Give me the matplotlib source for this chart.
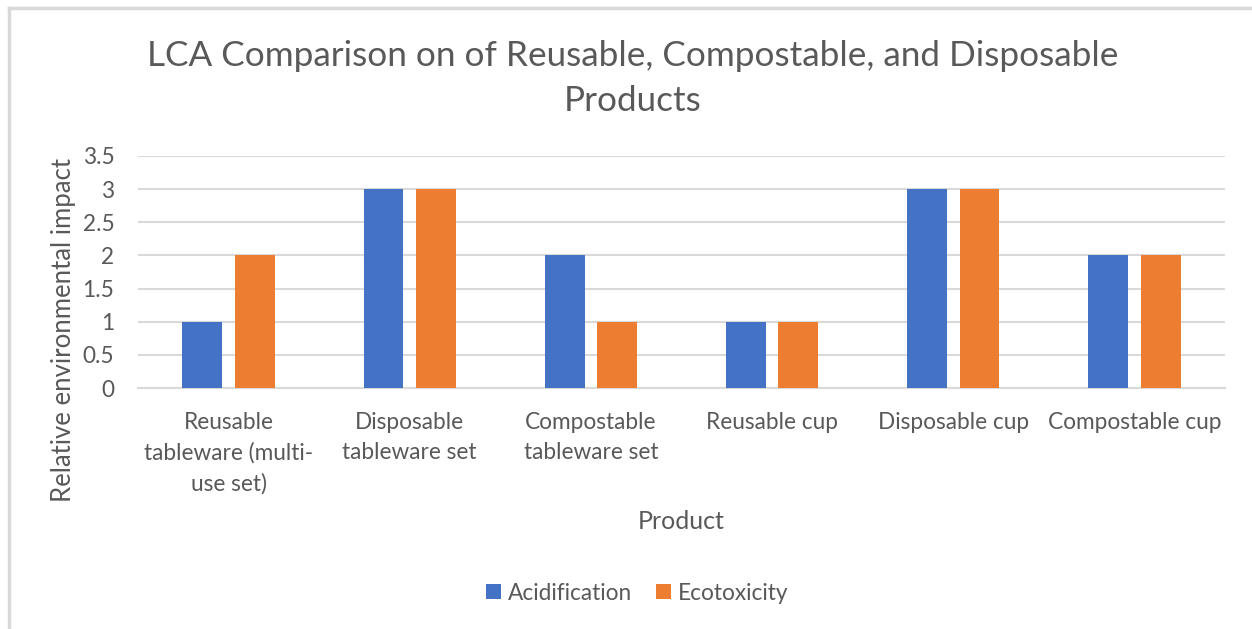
import matplotlib.pyplot as plt
import numpy as np
from matplotlib.lines import Line2D

plt.rcParams['font.family'] = ['Lato', 'DejaVu Sans']

# data
products = ["Reusable\ntableware (multi-\nuse set)", "Disposable\ntableware set",
            "Compostable\ntableware set", "Reusable cup", "Disposable cup",
            "Compostable cup"]
acidification = [1, 3, 2, 1, 3, 2]
ecotoxicity = [2, 3, 1, 1, 3, 2]
yticks = [0, 0.5, 1, 1.5, 2, 2.5, 3, 3.5]
ytick_labels = ["0", "0.5", "1", "1.5", "2", "2.5", "3", "3.5"]

txt = "#595959"
grid = "#d9d9d9"

fig = plt.figure(figsize=(12.52, 6.29), dpi=100)
ax = fig.add_axes([0.1102, 0.3831, 0.8682, 0.3689])

x = np.arange(len(products))
w = 0.22
ax.bar(x - 0.145, acidification, w, color="#4472C4", label="Acidification", zorder=3)
ax.bar(x + 0.145, ecotoxicity, w, color="#ED7D31", label="Ecotoxicity", zorder=3)

ax.set_xlim(-0.5, len(products) - 0.5)
ax.set_ylim(0, 3.5)
ax.set_yticks(yticks)
ax.set_yticklabels(ytick_labels)
ax.set_xticks(x)
ax.set_xticklabels(products, linespacing=1.55)
ax.tick_params(axis="both", length=0, colors=txt, labelsize=16.3)
ax.tick_params(axis="y", pad=17)
ax.tick_params(axis="x", pad=17)
ax.yaxis.grid(True, color=grid, linewidth=1.5, zorder=0)
for s in ["top", "right", "left"]:
    ax.spines[s].set_visible(False)
ax.spines["bottom"].set_color(grid)
ax.spines["bottom"].set_linewidth(1.5)

ax.set_xlabel("Product", color=txt, fontsize=18)
ax.xaxis.set_label_coords(0.5, -0.527)
ax.set_ylabel("Relative environmental impact", color=txt, fontsize=18.5)
ax.yaxis.set_label_coords(-0.057, 0.25)

fig.text(0.505, 0.875, "LCA Comparison on of Reusable, Compostable, and Disposable\nProducts",
         ha="center", va="center", fontsize=25.3, color=txt, linespacing=1.5)

fig.legend(loc="center", bbox_to_anchor=(0.509, 0.057), ncol=2, frameon=False,
           fontsize=16.3, labelcolor=txt, handlelength=0.65, handleheight=0.65,
           handletextpad=0.3, columnspacing=1.06)

# chart border (left and top only visible)
fig.add_artist(Line2D([0.0072, 0.0072], [0, 0.987], color="#d9d9d9", linewidth=2.5,
                      transform=fig.transFigure))
fig.add_artist(Line2D([0.0072, 1], [0.987, 0.987], color="#d9d9d9", linewidth=2.5,
                      transform=fig.transFigure))

fig.savefig("out.png", dpi=100, facecolor="white")
